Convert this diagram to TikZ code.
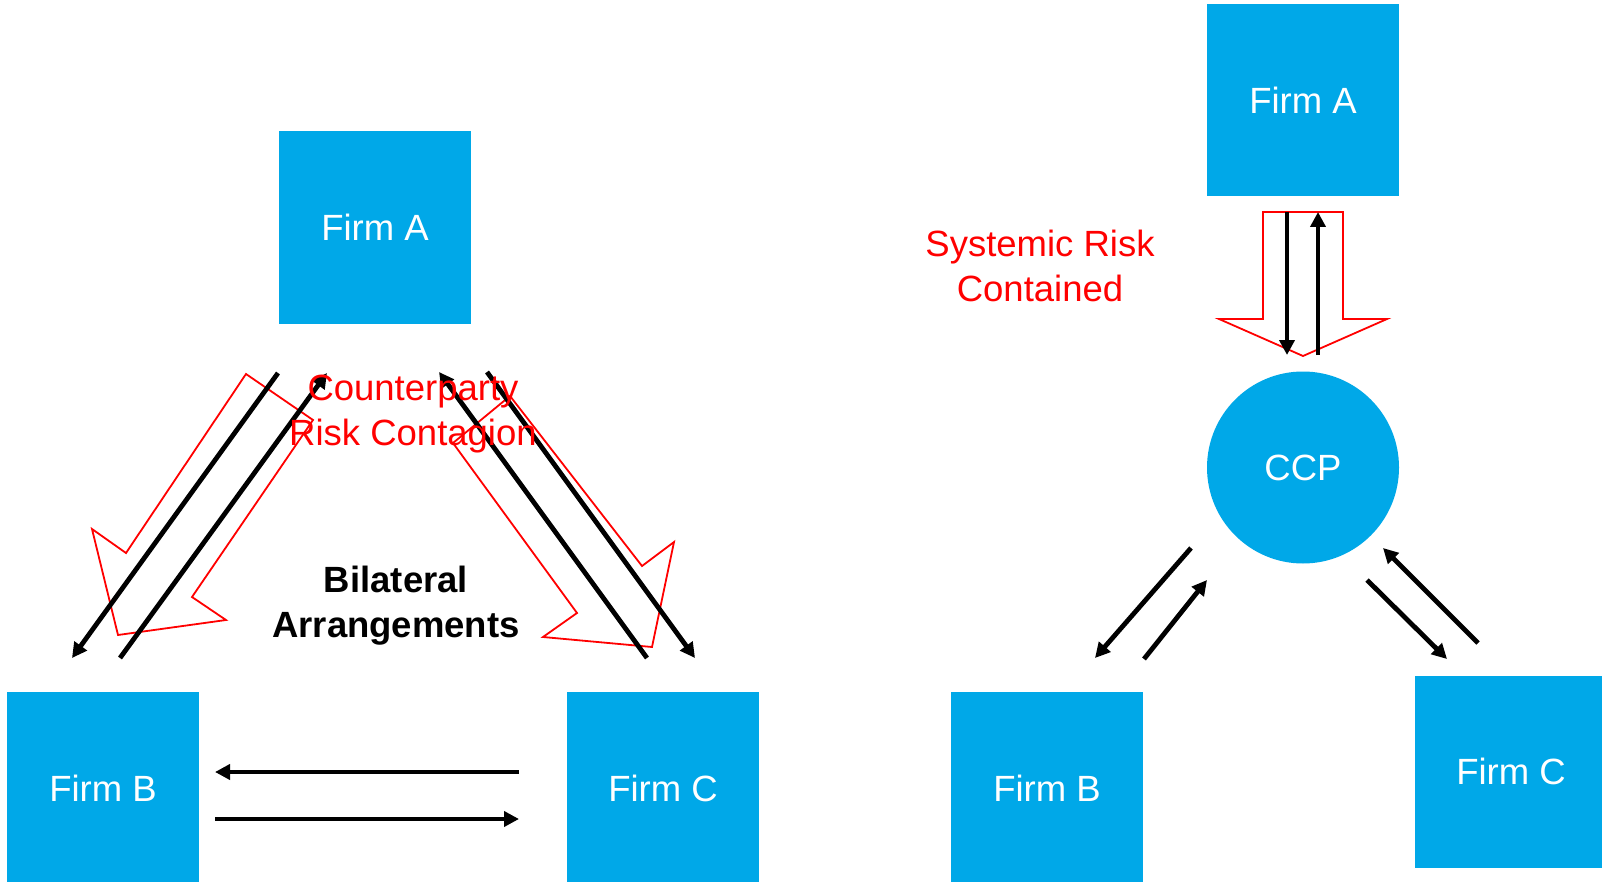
\documentclass[tikz,border=0pt]{standalone}
\usepackage{fontspec}
\setmainfont{Liberation Sans}
\usetikzlibrary{arrows.meta}
\definecolor{firmblue}{RGB}{0,168,232}
\definecolor{riskred}{RGB}{255,0,0}
\begin{document}
\begin{tikzpicture}[x=1pt,y=-1pt,
  lbl/.style={font=\fontsize{36.5}{45}\selectfont},
  firm/.style={lbl, fill=firmblue, minimum width=192pt, minimum height=192pt, inner sep=0pt, text=white},
  ccp/.style={lbl, circle, fill=firmblue, minimum size=192pt, inner sep=0pt, text=white},
  flow/.style={line width=4.8pt, -{Triangle[length=15pt,width=15pt]}},
  hollow/.style={draw=riskred, line width=1.8pt, line join=miter},
  risklabel/.style={lbl, text=riskred, align=center},
  boldlabel/.style={font=\fontsize{36.5}{45}\selectfont\bfseries, align=center}
]
\useasboundingbox (0,0) rectangle (1602,882);
\fill[white] (0,0) rectangle (1602,882);
\clip (0,0) rectangle (1602,882);

% ---------- left: bilateral ----------
\node[firm] (LA) at (375,227.5) {Firm A};
\node[firm] (LB) at (103,788) {Firm B};
\node[firm] (LC) at (663,788) {Firm C};

% hollow red arrows
\draw[hollow] (246,374) -- (313,420) -- (192,597) -- (226,620) -- (118,635) -- (92,529) -- (126,553) -- cycle;
\draw[hollow] (510,396) -- (453,443) -- (577,613) -- (543,637) -- (652,647) -- (674,542) -- (642,566) -- cycle;

% black arrow end points
\coordinate (ab1) at (278,373);
\coordinate (ab2) at (72,658);
\coordinate (ba1) at (120,658);
\coordinate (ba2) at (327,373);
\coordinate (ca1) at (647,658);
\coordinate (ca2) at (439,372);
\coordinate (ac1) at (487,372);
\coordinate (ac2) at (695,658);
\coordinate (cb1) at (519,772);
\coordinate (cb2) at (215,772);
\coordinate (bc1) at (215,819);
\coordinate (bc2) at (519,819);

\draw[flow] (ab1) -- (ab2);
\draw[flow] (ba1) -- (ba2);
\draw[flow] (ca1) -- (ca2);
\draw[flow] (ac1) -- (ac2);
\draw[flow] (cb1) -- (cb2);
\draw[flow] (bc1) -- (bc2);

\node[risklabel] (cpr) at (413,414) {Counterparty\\Risk Contagion};
\node[boldlabel] (bil) at (396,606) {Bilateral\\Arrangements};

% ---------- right: CCP ----------
\node[firm] (RA) at (1303,100) {Firm A};
\node[ccp] (CCP) at (1303,467.5) {CCP};
\node[firm] (RB) at (1047,788) {Firm B};
\node[firm] (RC) at (1511,771.5) {Firm C};

\draw[hollow] (1263,212) -- (1343,212) -- (1343,319) -- (1387,319) -- (1303,356) -- (1219,319) -- (1263,319) -- cycle;

\coordinate (ra1) at (1287,212);
\coordinate (ra2) at (1287,355);
\coordinate (ar1) at (1318,355);
\coordinate (ar2) at (1318,212);
\coordinate (rb1) at (1191,548);
\coordinate (rb2) at (1095,658);
\coordinate (br1) at (1144,659);
\coordinate (br2) at (1207,580);
\coordinate (rc1) at (1367,580);
\coordinate (rc2) at (1447,659);
\coordinate (cr1) at (1478,643);
\coordinate (cr2) at (1383,548);

\draw[flow] (ra1) -- (ra2);
\draw[flow] (ar1) -- (ar2);
\draw[flow] (rb1) -- (rb2);
\draw[flow] (br1) -- (br2);
\draw[flow] (rc1) -- (rc2);
\draw[flow] (cr1) -- (cr2);

\node[risklabel] (sys) at (1040,266) {Systemic Risk\\Contained};
\end{tikzpicture}
\end{document}
